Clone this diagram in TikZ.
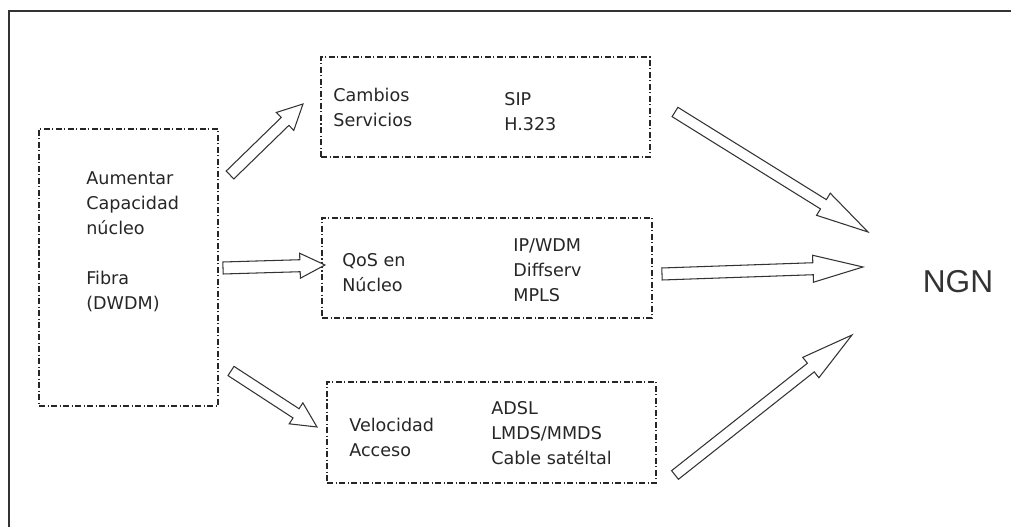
\documentclass[tikz,border=0pt]{standalone}
\usepackage{fontspec}
\setmainfont{DejaVu Sans}
\newfontfamily\ngnfont{Liberation Sans}
\usetikzlibrary{positioning, calc}
\tikzset{
    block/.style={draw=black!85, line width=0.6pt, dash pattern=on 0.12cm off 0.05cm on 0.02cm off 0.05cm, inner sep=0pt},
    txt/.style={align=left, anchor=west, inner sep=0pt, text=black!85, font=\fontsize{10pt}{14.2pt}\selectfont},
    bigarrow/.style={draw=black!80, line width=0.6pt, fill=white, line join=miter},
    frame/.style={draw=black!80, line width=1.2pt}
}
% hollow block arrow: tail, tip, half shaft, half head, head length
\newcommand{\blockarrow}[5]{%
  \coordinate (#1-base) at ($(#2)!#5!(#1)$);
  \draw[bigarrow] ($(#1)!#3!90:(#2)$) -- ($(#1-base)!#3!90:(#2)$) -- ($(#1-base)!#4!90:(#2)$)
    -- (#2) -- ($(#1-base)!#4!-90:(#2)$) -- ($(#1-base)!#3!-90:(#2)$) -- ($(#1)!#3!-90:(#2)$) -- cycle;
}

\begin{document}
\begin{tikzpicture}
\useasboundingbox (0,0) rectangle (20.22,10.54);

% Outer frame (cut at right and bottom)
\draw[frame] (0.18,0) -- (0.18,10.32) -- (20.22,10.32);

% Boxes
\node[block, minimum width=3.58cm, minimum height=5.54cm] (capacidad) at (2.57,5.19) {};
\node[block, minimum width=6.58cm, minimum height=2.0cm] (servicios) at (9.71,8.40) {};
\node[block, minimum width=6.60cm, minimum height=2.0cm] (qos) at (9.74,5.18) {};
\node[block, minimum width=6.58cm, minimum height=2.02cm] (acceso) at (9.83,1.89) {};

% Texts inside the boxes
\node[txt] (t-cap) at (1.72,5.71) {Aumentar\\Capacidad\\núcleo\\[14.2pt]Fibra\\(DWDM)};
\node[txt] (t-serv) at (6.66,8.39) {Cambios\\Servicios};
\node[txt] (t-sip) at (10.08,8.31) {SIP\\H.323};
\node[txt] (t-qos) at (6.84,5.09) {QoS en\\Núcleo};
\node[txt] (t-ip) at (10.26,5.13) {IP/WDM\\Diffserv\\MPLS};
\node[txt] (t-vel) at (6.98,1.80) {Velocidad\\Acceso};
\node[txt] (t-adsl) at (9.82,1.88) {ADSL\\LMDS/MMDS\\Cable satéltal};

% Target
\node[font=\ngnfont\fontsize{18pt}{20pt}\selectfont, text=black!80] (ngn) at (19.16,4.90) {NGN};

% Arrow ends
\coordinate (a1) at (4.60,7.04);  \coordinate (b1) at (6.06,8.46);
\coordinate (a2) at (4.46,5.18);  \coordinate (b2) at (6.50,5.24);
\coordinate (a3) at (4.62,3.12);  \coordinate (b3) at (6.34,2.00);
\coordinate (a4) at (13.50,8.30); \coordinate (b4) at (17.36,5.90);
\coordinate (a5) at (13.24,5.06); \coordinate (b5) at (17.26,5.20);
\coordinate (a6) at (13.50,1.04); \coordinate (b6) at (17.04,3.84);

% Arrows
\blockarrow{a1}{b1}{0.11cm}{0.25cm}{0.5cm}
\blockarrow{a2}{b2}{0.12cm}{0.25cm}{0.5cm}
\blockarrow{a3}{b3}{0.11cm}{0.25cm}{0.5cm}
\blockarrow{a4}{b4}{0.11cm}{0.26cm}{1.05cm}
\blockarrow{a5}{b5}{0.12cm}{0.27cm}{1.0cm}
\blockarrow{a6}{b6}{0.11cm}{0.26cm}{1.05cm}
\end{tikzpicture}
\end{document}
